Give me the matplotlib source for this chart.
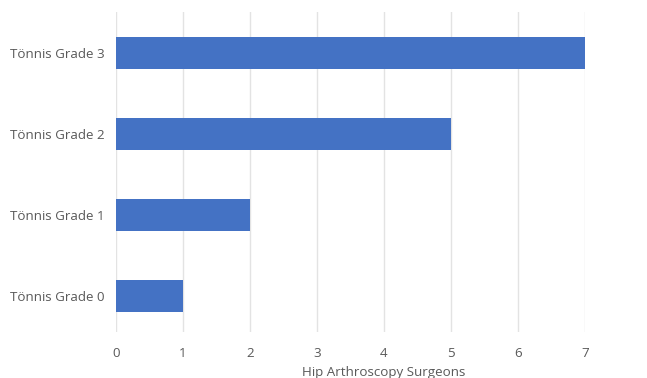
import matplotlib.pyplot as plt

categories = ["Tönnis Grade 0", "Tönnis Grade 1", "Tönnis Grade 2", "Tönnis Grade 3"]
surgeons = [1, 2, 5, 7]

plt.rcParams["font.family"] = ["Open Sans", "DejaVu Sans"]

fig = plt.figure(figsize=(6.47, 3.78), dpi=100)
ax = fig.add_axes([116 / 647, 46 / 378, 469 / 647, 320 / 378])

ax.barh(range(len(categories)), surgeons, height=0.395, color="#4472C4", zorder=3)
ax.set_yticks(range(len(categories)))
ax.set_yticklabels(categories)
ax.set_xlim(0, 7)
ax.set_ylim(-0.45, 3.5)
ax.set_xticks(range(0, 8))

ax.grid(axis="x", color="#e3e3e3", linewidth=1, zorder=0)
for s in ax.spines.values():
    s.set_visible(False)
ax.tick_params(length=0, colors="#595959", labelsize=9.6)
ax.tick_params(axis="x", pad=11)
ax.tick_params(axis="y", pad=8)
ax.set_xlabel("Hip Arthroscopy Surgeons", color="#595959", fontsize=9.6, labelpad=2)
ax.xaxis.set_label_coords(0.57, -0.105)

fig.savefig("out.png", dpi=100)
